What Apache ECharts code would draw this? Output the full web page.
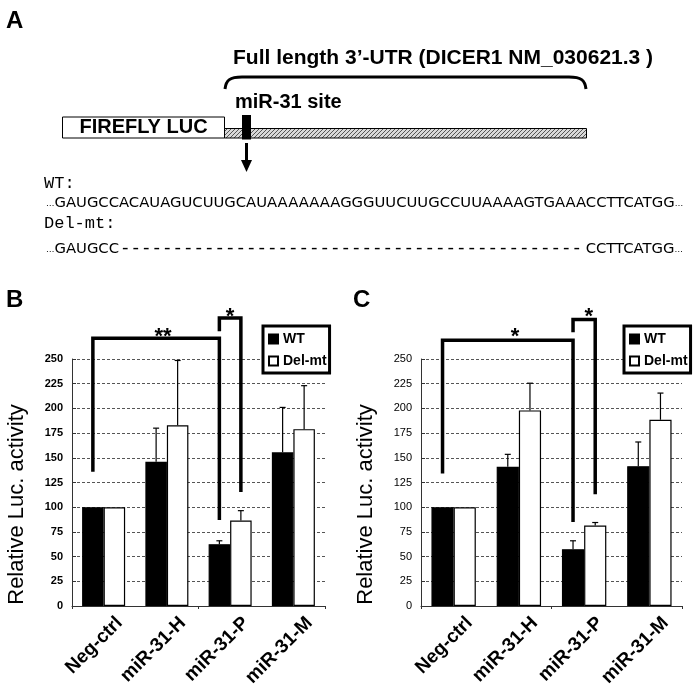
<!DOCTYPE html>
<html>
<head>
<meta charset="utf-8">
<script src="https://cdn.jsdelivr.net/npm/echarts@6/dist/echarts.min.js"></script>
<style>
  html, body { margin: 0; padding: 0; background: #fff; }
  #chart { width: 697px; height: 688px; }
</style>
</head>
<body>
<div id="chart"></div>
<script>
// categories and values
const categories = ['Neg-ctrl', 'miR-31-H', 'miR-31-P', 'miR-31-M']
const seriesNames = ['WT', 'Del-mt']

// panel B
const wtB = [100, 146, 62.5, 155.5]
const wtErrB = [0, 34, 3.5, 45.5]
const delB = [100, 183, 86.5, 179]
const delErrB = [0, 65.5, 10, 44]

// panel C
const wtC = [100, 141, 57.5, 141.5]
const wtErrC = [0, 12.5, 8.5, 24.5]
const delC = [100, 198, 81.5, 188.5]
const delErrC = [0, 27.5, 3, 27]

// significance brackets: [cat1, side1, cat2, side2, top, leftEnd, rightEnd, starCat, starShift, starValue]
const bracketsB = [
  [0, -1, 2, -1, 271, 136, 87, 1, -0.06, 272],
  [2, -1, 2, 1, 291.5, 278, 115.5, 2, 0, 293]
]
const starsB = ['**', '*']
const bracketsC = [
  [0, -1, 2, -1, 269, 134, 85, 1, -0.06, 272],
  [2, -1, 2, 1, 290, 277, 113, 2, 0.07, 293]
]
const starsC = ['*', '*']

// sequences for panel A
const wtSeq = 'GAUGCCACAUAGUCUUGCAUAAAAAAAGGGUUCUUGCCUUAAAAGTGAAACCTTCATGG'
const delHead = 'GAUGCC'
const delTail = 'CCTTCATGG'
const delGap = '-'.repeat(44)

const BAR_FRAC = 0.34
const SANS = 'Liberation Sans, Arial, sans-serif'
const MONO = 'Liberation Mono, Courier New, monospace'

const chart = echarts.init(document.getElementById('chart'))

// hatch pattern for the 3'-UTR bar
const hatch = document.createElement('canvas')
hatch.width = 4
hatch.height = 4
const hc = hatch.getContext('2d')
hc.fillStyle = '#d8d8d8'
hc.fillRect(0, 0, 4, 4)
hc.strokeStyle = '#555'
hc.lineWidth = 1
hc.beginPath()
hc.moveTo(-1, 5); hc.lineTo(5, -1)
hc.stroke()

const barSeries = (name, values, idx) => ({
  name,
  type: 'bar',
  xAxisIndex: idx,
  yAxisIndex: idx,
  data: values,
  barWidth: (BAR_FRAC * 100) + '%',
  barGap: '0%',
  itemStyle: {
    color: name === 'WT' ? '#000' : '#fff',
    borderColor: '#000',
    borderWidth: 1.2
  },
  z: 2
})

const errorSeries = (values, errs, side, idx) => ({
  name: 'err' + idx + side,
  type: 'custom',
  xAxisIndex: idx,
  yAxisIndex: idx,
  silent: true,
  z: 3,
  data: values.map((v, i) => [i, v, errs[i]]),
  encode: { x: 0, y: 1 },
  renderItem(params, api) {
    const err = api.value(2)
    if (!err) return { type: 'group', children: [] }
    const base = api.coord([api.value(0), api.value(1)])
    const top = api.coord([api.value(0), api.value(1) + err])
    const x = base[0] + side * api.size([1, 0])[0] * BAR_FRAC / 2
    const st = { stroke: '#000', lineWidth: 1.2 }
    return {
      type: 'group',
      children: [
        { type: 'line', shape: { x1: x, y1: base[1], x2: x, y2: top[1] }, style: st },
        { type: 'line', shape: { x1: x - 3, y1: top[1], x2: x + 3, y2: top[1] }, style: st }
      ]
    }
  }
})

const bracketSeries = (list, stars, idx) => ({
  name: 'sig' + idx,
  type: 'custom',
  xAxisIndex: idx,
  yAxisIndex: idx,
  clip: false,
  silent: true,
  z: 5,
  data: list,
  encode: { x: 0, y: 4 },
  renderItem(params, api) {
    const off = api.size([1, 0])[0] * BAR_FRAC / 2
    const xl = api.coord([api.value(0), 0])[0] + api.value(1) * off
    const xr = api.coord([api.value(2), 0])[0] + api.value(3) * off
    const yt = api.coord([0, api.value(4)])[1]
    const yl = api.coord([0, api.value(5)])[1]
    const yr = api.coord([0, api.value(6)])[1]
    const sx = api.coord([api.value(7), 0])[0] + api.value(8) * api.size([1, 0])[0]
    const sy = api.coord([0, api.value(9)])[1]
    return {
      type: 'group',
      children: [
        {
          type: 'polyline',
          shape: { points: [[xl, yl], [xl, yt], [xr, yt], [xr, yr]] },
          style: { stroke: '#000', lineWidth: 3.5, fill: null, lineJoin: 'miter' }
        },
        {
          type: 'text',
          x: sx,
          y: sy,
          style: {
            text: stars[params.dataIndex],
            fontSize: 22,
            fontWeight: 'bold',
            fontFamily: SANS,
            fill: '#000',
            align: 'center',
            verticalAlign: 'middle'
          }
        }
      ]
    }
  }
})

// rotated category labels, placed a bit right of each tick as in the figure
const labelSeries = idx => ({
  name: 'lab' + idx,
  type: 'custom',
  xAxisIndex: idx,
  yAxisIndex: idx,
  clip: false,
  silent: true,
  z: 4,
  data: categories.map((c, i) => [i, 0]),
  encode: { x: 0, y: 1 },
  renderItem(params, api) {
    const p = api.coord([api.value(0), 0])
    return {
      type: 'text',
      x: p[0] + 16,
      y: p[1] + 14,
      rotation: Math.PI / 4,
      style: {
        text: categories[params.dataIndex],
        fontSize: 19,
        fontWeight: 'bold',
        fontFamily: SANS,
        fill: '#000',
        align: 'right',
        verticalAlign: 'middle'
      }
    }
  }
})

const yAxis = (idx, bold) => ({
  type: 'value',
  gridIndex: idx,
  min: 0,
  max: 250,
  interval: 25,
  name: 'Relative Luc. activity',
  nameLocation: 'middle',
  nameGap: 44,
  nameTextStyle: { fontSize: 22, color: '#000', fontFamily: SANS, padding: [0, 44, 0, 0] },
  axisLine: { show: true, lineStyle: { color: '#333', width: 1 } },
  axisTick: { show: true, inside: true, length: 4, lineStyle: { color: '#333' } },
  axisLabel: {
    color: '#000',
    fontSize: 11,
    fontWeight: bold ? 'bold' : 'normal',
    fontFamily: SANS,
    margin: 9
  },
  splitLine: { show: true, lineStyle: { color: '#555', type: [3, 2], width: 1 } }
})

const xAxis = idx => ({
  type: 'category',
  gridIndex: idx,
  data: categories,
  axisLine: { show: true, lineStyle: { color: '#333', width: 1 } },
  axisTick: { show: true, length: 3, lineStyle: { color: '#333' } },
  axisLabel: { show: false },
  splitLine: { show: false }
})

const legend = (left) => ({
  data: seriesNames,
  orient: 'vertical',
  left,
  top: 326,
  icon: 'rect',
  itemWidth: 9,
  itemHeight: 9,
  itemGap: 8,
  padding: [6, 3, 5, 5],
  borderColor: '#000',
  borderWidth: 3,
  backgroundColor: '#fff',
  selectedMode: false,
  textStyle: { fontSize: 14, fontWeight: 'bold', color: '#000', fontFamily: SANS }
})

const txt = (x, y, text, font, extra) => Object.assign({
  type: 'text', x, y, silent: true,
  style: Object.assign({ text, fill: '#000', align: 'left', verticalAlign: 'middle' }, font)
}, extra || {})

const seqFont = { fontFamily: 'DejaVu Sans', fontSize: 14, rich: { e: { fontSize: 8, fontFamily: 'DejaVu Sans' }, s: { fontSize: 14, fontFamily: 'DejaVu Sans' } } }
const SEQ_SCALE = 1.057
const braceStyle = { stroke: '#000', lineWidth: 3, fill: null }

const graphic = [
  txt(6, 21, 'A', { fontSize: 24, fontWeight: 'bold', fontFamily: SANS }),
  txt(6, 300, 'B', { fontSize: 24, fontWeight: 'bold', fontFamily: SANS }),
  txt(353, 300, 'C', { fontSize: 24, fontWeight: 'bold', fontFamily: SANS }),
  txt(233, 58, 'Full length 3\u2019-UTR (DICER1 NM_030621.3 )', { fontSize: 21, fontWeight: 'bold', fontFamily: SANS }),
  {
    type: 'bezierCurve', silent: true,
    shape: { x1: 225, y1: 89, cpx1: 226, cpy1: 80, cpx2: 230, cpy2: 77, x2: 242, y2: 77 },
    style: braceStyle
  },
  {
    type: 'line', silent: true,
    shape: { x1: 242, y1: 77, x2: 569, y2: 77 },
    style: braceStyle
  },
  {
    type: 'bezierCurve', silent: true,
    shape: { x1: 569, y1: 77, cpx1: 581, cpy1: 77, cpx2: 585, cpy2: 80, x2: 586, y2: 89 },
    style: braceStyle
  },
  txt(235, 102, 'miR-31 site', { fontSize: 20, fontWeight: 'bold', fontFamily: SANS }),
  {
    type: 'rect', silent: true,
    shape: { x: 62.5, y: 117, width: 162, height: 21 },
    style: { fill: '#fff', stroke: '#000', lineWidth: 1 }
  },
  txt(143.5, 127.8, 'FIREFLY LUC', { fontSize: 20, fontWeight: 'bold', fontFamily: SANS, align: 'center' }),
  {
    type: 'rect', silent: true,
    shape: { x: 224.5, y: 128.5, width: 362, height: 9.5 },
    style: { fill: { image: hatch, repeat: 'repeat' }, stroke: '#000', lineWidth: 1 }
  },
  {
    type: 'rect', silent: true,
    shape: { x: 242, y: 115, width: 9, height: 24.5 },
    style: { fill: '#000' }
  },
  {
    type: 'line', silent: true,
    shape: { x1: 246.5, y1: 143, x2: 246.5, y2: 162 },
    style: { stroke: '#000', lineWidth: 3 }
  },
  {
    type: 'polygon', silent: true,
    shape: { points: [[241, 160], [252, 160], [246.5, 172]] },
    style: { fill: '#000' }
  },
  txt(44, 183, 'WT:', { fontSize: 17, fontFamily: MONO }),
  txt(46, 203.5, '{e|\u2026}{s|' + wtSeq + '}{e|\u2026}', seqFont, { scaleX: SEQ_SCALE }),
  txt(44, 223, 'Del-mt:', { fontSize: 17, fontFamily: MONO }),
  txt(46, 249.5, '{e|\u2026}{s|' + delHead + '}', seqFont, { scaleX: SEQ_SCALE }),
  txt(351, 249, delGap, { fontSize: 17.5, fontFamily: MONO, align: 'center' }),
  txt(683, 249.5, '{s|' + delTail + '}{e|\u2026}', Object.assign({ align: 'right' }, seqFont), { scaleX: SEQ_SCALE })
]

const option = {
  backgroundColor: '#fff',
  animation: false,
  textStyle: { fontFamily: SANS },
  grid: [
    { left: 72, top: 359, width: 253, height: 247, outerBoundsMode: 'none' },
    { left: 421, top: 359, width: 261, height: 247, outerBoundsMode: 'none' }
  ],
  legend: [legend(263), legend(624)],
  xAxis: [xAxis(0), xAxis(1)],
  yAxis: [yAxis(0, true), yAxis(1, false)],
  series: [
    barSeries('WT', wtB, 0),
    barSeries('Del-mt', delB, 0),
    barSeries('WT', wtC, 1),
    barSeries('Del-mt', delC, 1),
    errorSeries(wtB, wtErrB, -1, 0),
    errorSeries(delB, delErrB, 1, 0),
    errorSeries(wtC, wtErrC, -1, 1),
    errorSeries(delC, delErrC, 1, 1),
    bracketSeries(bracketsB, starsB, 0),
    bracketSeries(bracketsC, starsC, 1),
    labelSeries(0),
    labelSeries(1)
  ],
  graphic
}

chart.setOption(option)
</script>
</body>
</html>
